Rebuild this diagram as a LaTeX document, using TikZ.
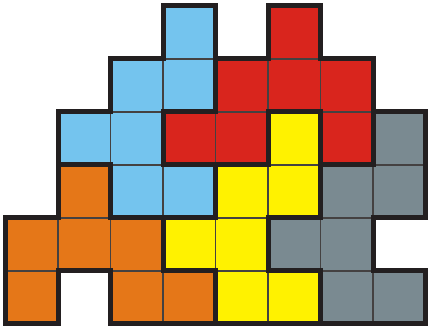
\documentclass[tikz,border=0pt]{standalone}
\definecolor{pblue}{HTML}{74C4EE}
\definecolor{pred}{HTML}{D9251D}
\definecolor{pyellow}{HTML}{FFF200}
\definecolor{pgray}{HTML}{7A8A91}
\definecolor{porange}{HTML}{E57718}
\definecolor{edge}{HTML}{231F20}
\begin{document}
\begin{tikzpicture}[x=1pt,y=1pt,
  cell/.style={draw=edge!85,line width=1.2pt},
  outline/.style={draw=edge,line width=5pt,line join=miter}]
\useasboundingbox (0,0) rectangle (429,-331);
\begin{scope}[shift={(5.5,-6)},x=52.5pt,y=-53pt]
\foreach \c/\r in {3/0,2/1,3/1,1/2,2/2,2/3,3/3}
  \fill[pblue,cell] (\c,\r) rectangle ++(1,1);
\foreach \c/\r in {5/0,4/1,5/1,6/1,3/2,4/2,6/2}
  \fill[pred,cell] (\c,\r) rectangle ++(1,1);
\foreach \c/\r in {5/2,4/3,5/3,3/4,4/4,4/5,5/5}
  \fill[pyellow,cell] (\c,\r) rectangle ++(1,1);
\foreach \c/\r in {7/2,6/3,7/3,5/4,6/4,6/5,7/5}
  \fill[pgray,cell] (\c,\r) rectangle ++(1,1);
\foreach \c/\r in {1/3,0/4,1/4,2/4,0/5,2/5,3/5}
  \fill[porange,cell] (\c,\r) rectangle ++(1,1);
\draw[outline] (3,0)--(4,0)--(4,2)--(3,2)--(3,3)--(4,3)--(4,4)--(2,4)--(2,3)--(1,3)--(1,2)--(2,2)--(2,1)--(3,1)--cycle;
\draw[outline] (5,0)--(6,0)--(6,1)--(7,1)--(7,3)--(6,3)--(6,2)--(5,2)--(5,3)--(3,3)--(3,2)--(4,2)--(4,1)--(5,1)--cycle;
\draw[outline] (5,2)--(6,2)--(6,4)--(5,4)--(5,5)--(6,5)--(6,6)--(4,6)--(4,5)--(3,5)--(3,4)--(4,4)--(4,3)--(5,3)--cycle;
\draw[outline] (7,2)--(8,2)--(8,4)--(7,4)--(7,5)--(8,5)--(8,6)--(6,6)--(6,5)--(5,5)--(5,4)--(6,4)--(6,3)--(7,3)--cycle;
\draw[outline] (1,3)--(2,3)--(2,4)--(3,4)--(3,5)--(4,5)--(4,6)--(2,6)--(2,5)--(1,5)--(1,6)--(0,6)--(0,4)--(1,4)--cycle;
\end{scope}
\end{tikzpicture}
\end{document}
